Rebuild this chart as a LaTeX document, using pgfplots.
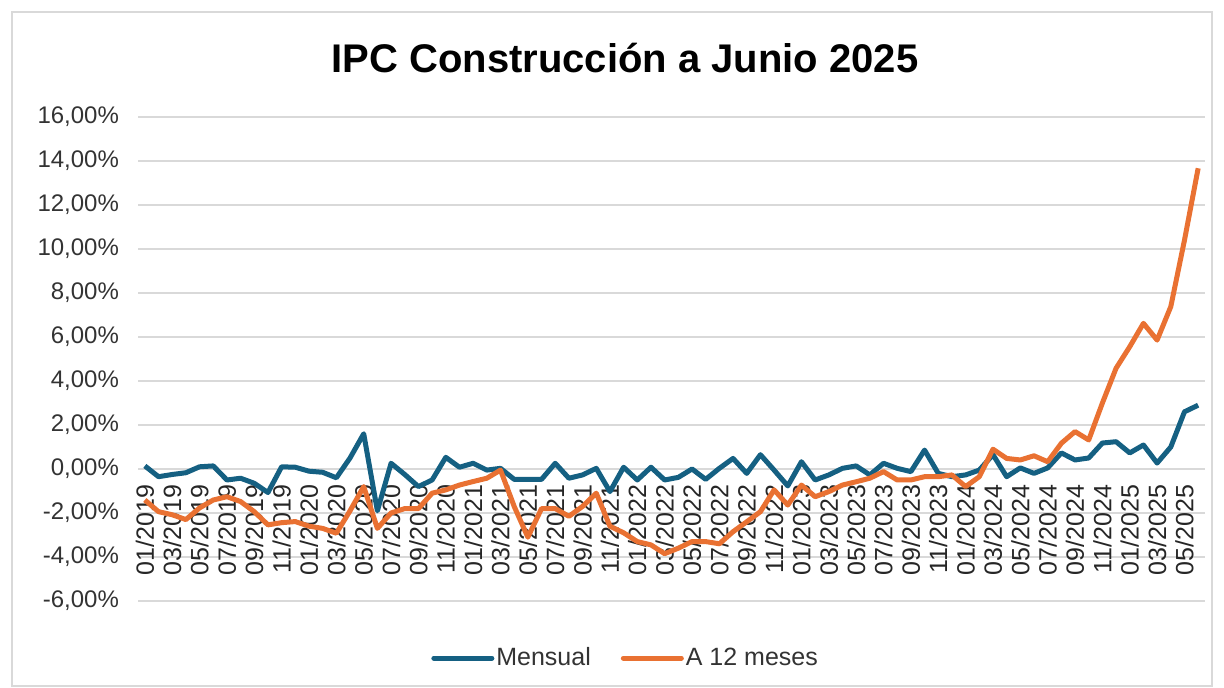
\documentclass[border=0pt]{standalone}
\usepackage{pgfplots}
\pgfplotsset{compat=1.18}
\usepackage{pgfplotstable}
\usepackage{fontspec}
\setmainfont{Liberation Sans}
\definecolor{mens}{HTML}{156082}
\definecolor{doce}{HTML}{E97132}
\definecolor{grd}{HTML}{D9D9D9}

% i = month index from 01/2019, m = mensual, a = a 12 meses (percent)
\pgfplotstableread{
i m a
0 0.14 -1.41
1 -0.35 -1.94
2 -0.25 -2.08
3 -0.17 -2.30
4 0.10 -1.77
5 0.14 -1.41
6 -0.50 -1.26
7 -0.42 -1.48
8 -0.65 -1.94
9 -1.07 -2.54
10 0.10 -2.44
11 0.08 -2.39
12 -0.10 -2.60
13 -0.15 -2.70
14 -0.40 -2.92
15 0.50 -1.90
16 1.60 -0.80
17 -1.90 -2.70
18 0.26 -2.00
19 -0.25 -1.80
20 -0.80 -1.80
21 -0.50 -1.10
22 0.53 -0.95
23 0.08 -0.73
24 0.26 -0.57
25 -0.05 -0.42
26 0.03 -0.05
27 -0.47 -1.70
28 -0.47 -3.10
29 -0.47 -1.80
30 0.26 -1.80
31 -0.42 -2.15
32 -0.27 -1.70
33 0.03 -1.10
34 -1.03 -2.60
35 0.08 -2.90
36 -0.50 -3.30
37 0.08 -3.45
38 -0.50 -3.85
39 -0.38 -3.60
40 0.00 -3.30
41 -0.47 -3.30
42 0.03 -3.40
43 0.48 -2.85
44 -0.20 -2.40
45 0.65 -1.94
46 -0.05 -0.95
47 -0.77 -1.64
48 0.33 -0.73
49 -0.50 -1.26
50 -0.27 -1.03
51 0.03 -0.73
52 0.14 -0.58
53 -0.27 -0.42
54 0.26 -0.12
55 0.03 -0.50
56 -0.12 -0.50
57 0.86 -0.35
58 -0.20 -0.35
59 -0.35 -0.27
60 -0.27 -0.80
61 -0.05 -0.35
62 0.65 0.90
63 -0.35 0.48
64 0.05 0.41
65 -0.20 0.60
66 0.05 0.33
67 0.73 1.17
68 0.41 1.70
69 0.50 1.32
70 1.18 3.00
71 1.24 4.58
72 0.73 5.56
73 1.09 6.62
74 0.27 5.86
75 1.00 7.38
76 2.60 10.40
77 2.90 13.67
}\ipc

\begin{document}
\begin{tikzpicture}
\path (0,0) rectangle (612pt,344pt);
\draw[grd, line width=0.6pt] (6pt,1pt) rectangle (606pt,338pt);
\node at (312.5pt,315pt) {\bfseries\fontsize{20}{22}\selectfont IPC Construcción a Junio 2025};
\begin{axis}[
  set layers,
  scale only axis,
  width=533.5pt, height=242pt,
  at={(69pt,43.5pt)}, anchor=south west,
  xmin=-0.5, xmax=77.5,
  ymin=-6, ymax=16,
  axis line style={draw=none},
  tick style={draw=none},
  ymajorgrids, grid style={grd, line width=0.8pt},
  ytick={-6,-4,...,16},
  yticklabels={{-6,00\%},{-4,00\%},{-2,00\%},{0,00\%},{2,00\%},{4,00\%},{6,00\%},{8,00\%},{10,00\%},{12,00\%},{14,00\%},{16,00\%}},
  yticklabel style={anchor=east, font=\fontsize{12}{14}\selectfont, color=black!80},
  yticklabel shift=6pt,
  xtick={0,2,...,76},
  xticklabels={01/2019,03/2019,05/2019,07/2019,09/2019,11/2019,
    01/2020,03/2020,05/2020,07/2020,09/2020,11/2020,
    01/2021,03/2021,05/2021,07/2021,09/2021,11/2021,
    01/2022,03/2022,05/2022,07/2022,09/2022,11/2022,
    01/2023,03/2023,05/2023,07/2023,09/2023,11/2023,
    01/2024,03/2024,05/2024,07/2024,09/2024,11/2024,
    01/2025,03/2025,05/2025},
  xticklabel style={rotate=90, anchor=east, font=\fontsize{12.5}{14}\selectfont, color=black!85},
  xticklabel shift=-61.5pt,
  legend style={at={(0.457,-0.118)}, anchor=center, draw=none, fill=none,
    legend columns=2, font=\fontsize{12.5}{14}\selectfont, text=black!80,
    /tikz/every even column/.append style={column sep=14pt},
    nodes={inner sep=1pt}},
  legend image code/.code={\draw[#1, line width=2.5pt, line cap=round] (0pt,0pt) -- (29pt,0pt);},
]
\addplot[mens, line width=2.5pt, line join=round, no markers] table[x=i, y=m] {\ipc};
\addlegendentry{Mensual}
\addplot[doce, line width=2.5pt, line join=round, no markers] table[x=i, y=a] {\ipc};
\addlegendentry{A 12 meses}
\end{axis}
\end{tikzpicture}
\end{document}
